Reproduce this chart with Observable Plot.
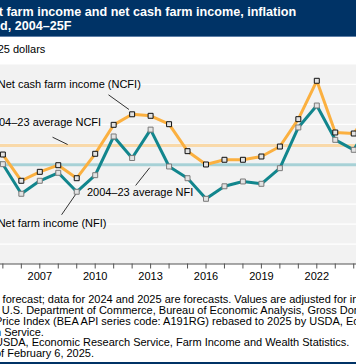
<!DOCTYPE html>
<html>
<head>
<meta charset="utf-8">
<script src="https://cdn.jsdelivr.net/npm/d3@7"></script>
<script src="https://cdn.jsdelivr.net/npm/@observablehq/plot@0.6"></script>
<style>
  html, body { margin: 0; padding: 0; background: #fff; overflow: hidden; width: 356px; height: 364px; }
  #fig { position: absolute; left: -44px; top: 0; width: 450px; height: 364px; font-family: "Liberation Sans", Arial, sans-serif; }
  #title { position: absolute; left: 0; top: 0; width: 450px; height: 37px; background: #003366; border-bottom: 1px solid #5d7ea6;
           color: #fff; font-weight: bold; font-size: 12.6px; line-height: 14px; padding: 5px 0 0 0; box-sizing: border-box; }
  #subtitle { position: absolute; left: -3px; top: 43px; font-size: 11px; line-height: 13px; color: #000; }
  #chart { position: absolute; left: 0; top: 54px; }
  #note { position: absolute; left: -2px; top: 294px; font-size: 11px; line-height: 10.85px; color: #000; white-space: nowrap; }
  #bottomline { position: absolute; left: 0; top: 362px; width: 450px; height: 2px; background: #003366; }
</style>
</head>
<body>
<div id="fig">
  <div id="title">U.S. net farm income and net cash farm income, inflation<br>adjusted, 2004–25F</div>
  <div id="subtitle">Billion 2025 dollars</div>
  <div id="chart"></div>
  <div id="note">Note: F = forecast; data for 2024 and 2025 are forecasts. Values are adjusted for inflation<br>using the U.S. Department of Commerce, Bureau of Economic Analysis, Gross Domestic<br>Product Price Index (BEA API series code: A191RG) rebased to 2025 by USDA, Economic<br>Research Service.<br>Source: USDA, Economic Research Service, Farm Income and Wealth Statistics.<br>Data as of February 6, 2025.</div>
  <div id="bottomline"></div>
</div>
<script>
// Years
const years = [2004, 2005, 2006, 2007, 2008, 2009, 2010, 2011, 2012, 2013, 2014,
               2015, 2016, 2017, 2018, 2019, 2020, 2021, 2022, 2023, 2024, 2025];
// Net cash farm income (billion 2025 dollars)
const ncfi = [140.0, 137.2, 104.3, 115.5, 123.8, 107.5, 138.1, 174.4, 187.6, 185.7, 175.2,
              141.4, 124.7, 130.6, 130.6, 134.7, 147.2, 181.5, 229.6, 164.8, 163.5, 196.1];
// Net farm income (billion 2025 dollars)
const nfi = [137.0, 125.1, 88.0, 104.3, 114.3, 90.5, 111.3, 159.8, 132.8, 168.4, 122.2,
             107.5, 81.7, 97.4, 103.4, 100.5, 120.1, 171.1, 198.6, 155.6, 143.1, 180.1];
// 2004–23 averages
const avgNames = ["NCFI", "NFI"];
const avgValues = [148.5, 124.3];
// y tick values for gridlines
const gridValues = [25, 50, 75, 100, 125, 150, 175, 200, 225];
// x tick label years
const labelYears = [2004, 2007, 2010, 2013, 2016, 2019, 2022, 2025];

// Annotations (positions in data units)
const annText = ["Net cash farm income (NCFI)", "2004–23 average NCFI", "2004–23 average NFI", "Net farm income (NFI)"];
const annYear = [2012.47, 2010.32, 2009.55, 2010.61];
const annValue = [224.9, 177.3, 89.2, 50.4];
const annAnchor = ["end", "end", "start", "end"];
const leadYear1 = [2010.72, 2007.69, 2012.19, 2008.18];
const leadValue1 = [212.0, 158.9, 98.4, 61.7];
const leadYear2 = [2011.83, 2008.51, 2012.95, 2009.0];
const leadValue2 = [193.6, 149.7, 120.6, 89.2];

const rows = years.map((y, i) => ({year: y, ncfi: ncfi[i], nfi: nfi[i]}));
const avgs = avgNames.map((n, i) => ({name: n, value: avgValues[i]}));
const anns = annText.map((t, i) => ({text: t, year: annYear[i], value: annValue[i], anchor: annAnchor[i],
  x1: leadYear1[i], y1: leadValue1[i], x2: leadYear2[i], y2: leadValue2[i]}));

const plot = Plot.plot({
  width: 450,
  height: 239,
  marginLeft: 27.9,
  marginRight: 34.3,
  marginTop: 10,
  marginBottom: 29.5,
  style: {fontFamily: "Liberation Sans, Arial, sans-serif", fontSize: "11px", background: "transparent", overflow: "visible"},
  x: {domain: [2004, 2025]},
  y: {domain: [0, 250]},
  marks: [
    Plot.frame({fill: "#f2f2f2", stroke: null}),
    Plot.gridY(gridValues, {stroke: "#ffffff", strokeOpacity: 1, strokeWidth: 1.3}),
    Plot.ruleY(avgs, {y: "value", stroke: d => d.name === "NCFI" ? "#f9d9a9" : "#a7d1d6", strokeWidth: 3}),
    Plot.ruleY([0], {stroke: "#555", strokeWidth: 1}),
    Plot.axisX({ticks: years, tickSize: 5, tickPadding: 3, stroke: "#555",
      tickFormat: d => labelYears.includes(d) ? String(d) : "", fontSize: 11, fill: "#000"}),
    Plot.axisY({ticks: [], label: null}),
    Plot.link(anns, {x1: "x1", y1: "y1", x2: "x2", y2: "y2", stroke: "#000", strokeWidth: 0.8}),
    Plot.text(anns.filter(d => d.anchor === "end"), {x: "year", y: "value", text: "text", textAnchor: "end", fill: "#000", fontSize: 11}),
    Plot.text(anns.filter(d => d.anchor === "start"), {x: "year", y: "value", text: "text", textAnchor: "start", fill: "#000", fontSize: 11}),
    Plot.line(rows, {x: "year", y: "ncfi", stroke: "#fbb040", strokeWidth: 3}),
    Plot.line(rows, {x: "year", y: "nfi", stroke: "#12868d", strokeWidth: 3}),
    Plot.dot(rows, {x: "year", y: "nfi", symbol: "square", r: 2.8, fill: "#e3e3e3", stroke: "#7a7a7a", strokeWidth: 1}),
    Plot.dot(rows, {x: "year", y: "ncfi", symbol: "square", r: 2.8, fill: "#e3e3e3", stroke: "#111", strokeWidth: 1})
  ]
});
document.getElementById("chart").appendChild(plot);
</script>
</body>
</html>
